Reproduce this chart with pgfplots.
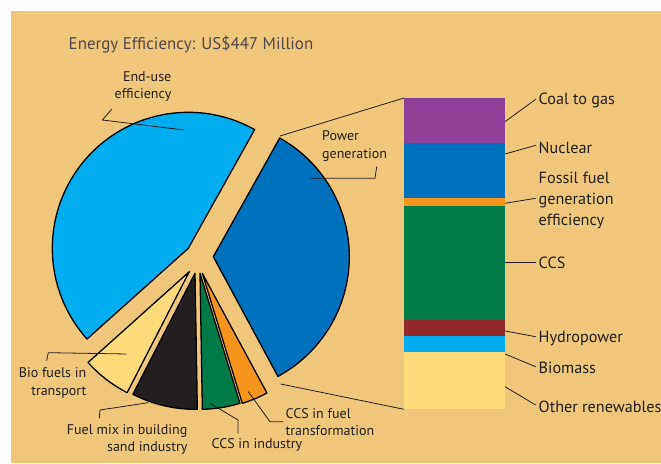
\documentclass[border=0pt]{standalone}
\usepackage{pgfplots}
\usepackage{pgfplotstable}
\pgfplotsset{compat=1.18}
\usepackage{fontspec}
\setmainfont{PT Sans}
\definecolor{bg}{HTML}{F0C77A}
\definecolor{cEnd}{HTML}{00AEEF}
\definecolor{cPow}{HTML}{0071BC}
\definecolor{cBio}{HTML}{FFDA7B}
\definecolor{cMix}{HTML}{231F20}
\definecolor{cGreen}{HTML}{007A47}
\definecolor{cOrange}{HTML}{F7941D}
\definecolor{cPurple}{HTML}{8E3F97}
\definecolor{cRed}{HTML}{93282A}
\definecolor{txt}{HTML}{231F20}
\definecolor{ttl}{HTML}{4F4A4A}

\pgfplotstableread{
name value
EndUse 200
BioFuels 26
FuelMix 35
CCSind 20
CCSfuel 14
Power 152
}\pietable

\newcommand\pieslice[6]{% start, end, cx, cy, color, radius
  \edef\tmp{\noexpand\addplot[fill=#5, draw=black, line width=1.3pt, line join=round,
    domain=#1:#2, samples=90, variable=\noexpand\t]
    ({#3+#6*cos(\noexpand\t)},{#4+#6*sin(\noexpand\t)}) -- (axis cs:#3,#4) -- cycle;}\tmp}

\begin{document}
\begin{tikzpicture}
\path[use as bounding box] (0,0) rectangle (661pt,463pt);
\fill[white] (0,0) rectangle (661pt,463pt);
\fill[bg] (11pt,0) rectangle (661pt,452pt);

% angles from the values
\pgfplotstablegetelem{0}{value}\of\pietable\let\vA\pgfplotsretval
\pgfplotstablegetelem{1}{value}\of\pietable\let\vB\pgfplotsretval
\pgfplotstablegetelem{2}{value}\of\pietable\let\vC\pgfplotsretval
\pgfplotstablegetelem{3}{value}\of\pietable\let\vD\pgfplotsretval
\pgfplotstablegetelem{4}{value}\of\pietable\let\vE\pgfplotsretval
\pgfplotstablegetelem{5}{value}\of\pietable\let\vF\pgfplotsretval
\pgfmathsetmacro\tot{\vA+\vB+\vC+\vD+\vE+\vF}
\pgfmathsetmacro\aO{60.8}
\pgfmathsetmacro\aA{\aO+\vA/\tot*360}
\pgfmathsetmacro\aB{\aA+\vB/\tot*360}
\pgfmathsetmacro\aC{\aB+\vC/\tot*360}
\pgfmathsetmacro\aD{\aC+\vD/\tot*360}
\pgfmathsetmacro\aE{\aD+\vE/\tot*360}
\pgfmathsetmacro\aF{\aE+\vF/\tot*360}

\begin{axis}[x=1pt, y=1pt, xmin=0, xmax=661, ymin=0, ymax=463,
  hide axis, clip=false, at={(0,0)}, anchor=origin]
\pieslice{\aO}{\aA}{188.3}{214.7}{cEnd}{136}
\pieslice{\aA}{\aB}{189.3}{191.3}{cBio}{136}
\pieslice{\aB}{\aC}{195}{189.7}{cMix}{136}
\pieslice{\aC}{\aD}{200}{189.7}{cGreen}{136}
\pieslice{\aD}{\aE}{202.3}{189.7}{cOrange}{136}
\pieslice{\aE}{\aF}{213.3}{206.3}{cPow}{136}

\begin{scope}[txt, line width=0.8pt]
% connectors pie -> bar
\draw (axis cs:280,327) -- (axis cs:404,365);
\draw (axis cs:280.7,79) -- (axis cs:404,53.7);
% pie leaders
\draw (axis cs:111.7,353.7) -- (axis cs:102.3,343) -- (axis cs:184,333);
\draw (axis cs:376.7,296.3) -- (axis cs:375,284.7) -- (axis cs:310.7,284.7);
\draw (axis cs:46.7,102.3) -- (axis cs:48.3,110.3) -- (axis cs:126.7,109);
\draw (axis cs:99.3,44.7) -- (axis cs:100,53) -- (axis cs:148.3,60.3);
\draw (axis cs:238,29.7) -- (axis cs:238,43) -- (axis cs:210,59.7);
\draw (axis cs:248.3,71.3) -- (axis cs:270,41.3) -- (axis cs:283.3,41.3);
% bar leaders
\draw (axis cs:505,341.3) -- (axis cs:535.7,363.7);
\draw (axis cs:505,309) -- (axis cs:535.7,317.7);
\draw (axis cs:505,259.7) -- (axis cs:535.7,264.7);
\draw (axis cs:505,200.3) -- (axis cs:535.7,200.3);
\draw (axis cs:505,132) -- (axis cs:535.7,126.3);
\draw (axis cs:505,109) -- (axis cs:535.7,96.3);
\draw (axis cs:505,76.3) -- (axis cs:535.7,58);
\end{scope}

\node[anchor=west, text=ttl, inner sep=0pt, font=\fontsize{16.9}{19}\selectfont] at (axis cs:68.5,418) {Energy Efficiency: US\$447 Million};

\begin{scope}[every node/.style={text=txt, inner sep=0pt, font=\fontsize{14}{17.5}\selectfont}]
\node[anchor=east, align=right] at (axis cs:171.5,376.5) {End-use\\efficiency};
\node[anchor=west, align=left] at (axis cs:322,317.1) {Power\\generation};
\node[anchor=east, align=right] at (axis cs:86.5,80) {Bio fuels in\\transport};
\node[anchor=east, align=right] at (axis cs:187.5,23.5) {Fuel mix in building\\sand industry};
\node[anchor=west] at (axis cs:211.5,18) {CCS in industry};
\node[anchor=west, align=left] at (axis cs:285.5,41) {CCS in fuel\\transformation};
\end{scope}
\begin{scope}[every node/.style={text=txt, inner sep=0pt, font=\fontsize{16.2}{21.2}\selectfont}]
\node[anchor=west] at (axis cs:538.5,363) {Coal to gas};
\node[anchor=west] at (axis cs:538.5,315.3) {Nuclear};
\node[anchor=west, align=left] at (axis cs:538.5,262.4) {Fossil fuel\\generation\\efficiency};
\node[anchor=west] at (axis cs:538.5,200.3) {CCS};
\node[anchor=west] at (axis cs:538.5,124.7) {Hydropower};
\node[anchor=west] at (axis cs:538.5,95.3) {Biomass};
\node[anchor=west] at (axis cs:538.5,56.3) {Other renewables};
\end{scope}
\end{axis}

\begin{axis}[at={(404pt,53.7pt)}, anchor=south west, x=101pt, y=2.048pt,
  xmin=-0.5, xmax=0.5, ymin=0, ymax=152, hide axis, clip=false,
  ybar stacked, bar width=101pt]
\addplot[fill=cBio, draw=none] coordinates {(0,28)};   % Other renewables
\addplot[fill=cEnd, draw=none] coordinates {(0,8)};    % Biomass
\addplot[fill=cRed, draw=none] coordinates {(0,7.5)};  % Hydropower
\addplot[fill=cGreen, draw=none] coordinates {(0,56)}; % CCS
\addplot[fill=cOrange, draw=none] coordinates {(0,3.5)}; % Fossil fuel generation efficiency
\addplot[fill=cPow, draw=none] coordinates {(0,27)};   % Nuclear
\addplot[fill=cPurple, draw=none] coordinates {(0,22)}; % Coal to gas
\end{axis}
\end{tikzpicture}
\end{document}
